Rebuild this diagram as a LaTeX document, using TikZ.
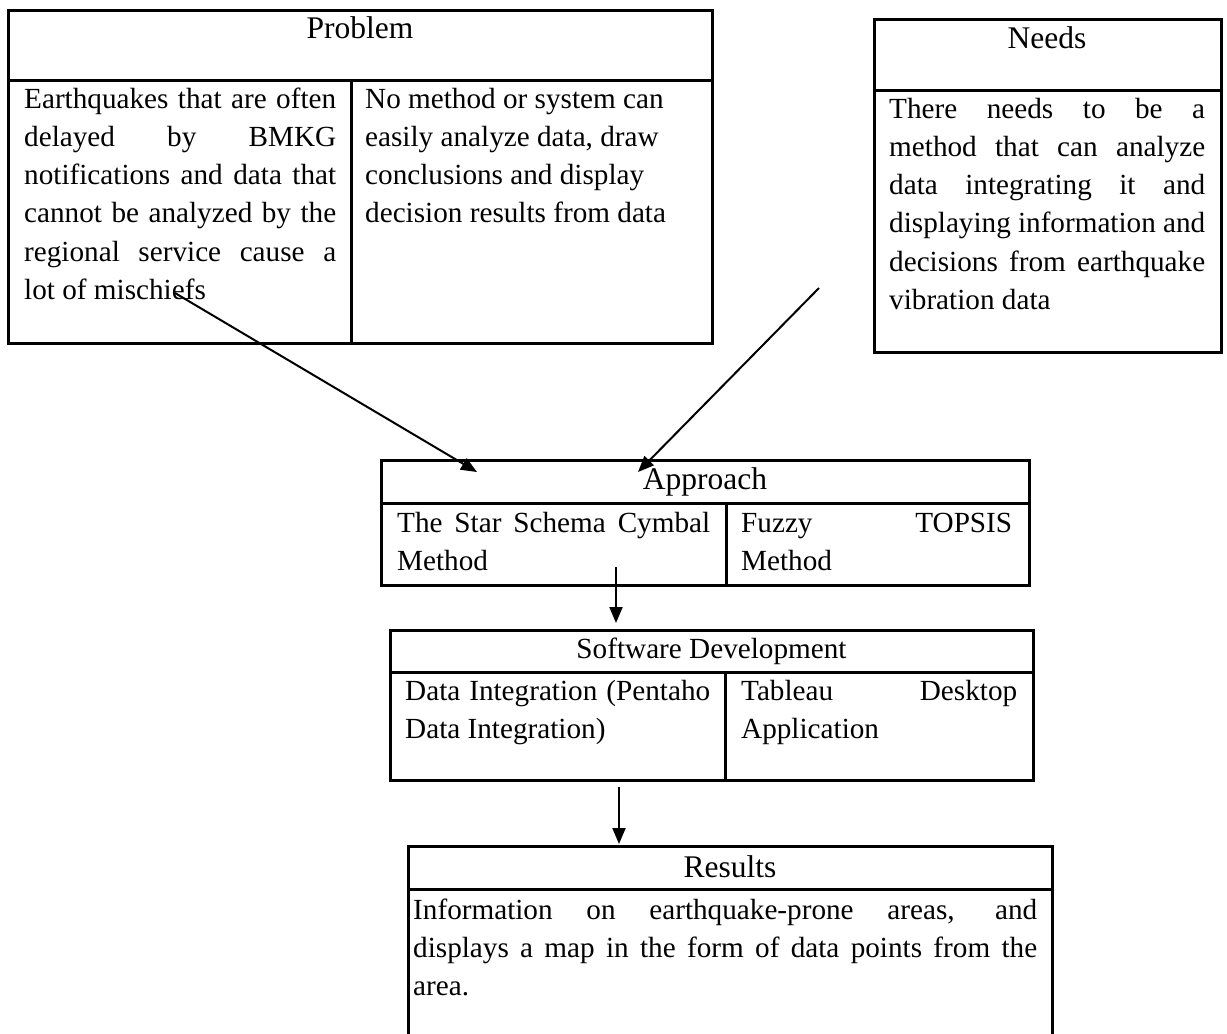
\documentclass[tikz,border=0pt]{standalone}
\usepackage{fontspec}
\setmainfont{Liberation Serif}
\usetikzlibrary{arrows.meta}
\newcommand\JL[1]{\hbox to\hsize{#1}}
\newcommand\RL[1]{\hbox{#1}}
\newcommand\Lines[2]{\vtop{\hsize=#1\relax\baselineskip=38.3pt\relax\lineskiplimit=-100pt\relax #2}}
\begin{document}
\begin{tikzpicture}[x=1pt,y=-1pt,
  frame/.style={draw, line width=3pt, rectangle, inner sep=0pt, outer sep=0pt, anchor=north west},
  rule/.style={line width=3pt},
  head/.style={font=\fontsize{31.5}{38}\selectfont, inner sep=0pt, anchor=base},
  body/.style={font=\fontsize{29.2}{38.3}\selectfont, inner sep=0pt, anchor=base west},
  conn/.style={line width=2pt, -{Triangle[length=16pt,width=13pt]}}
]
\useasboundingbox (0,0) rectangle (1227,1034);
\clip (0,0) rectangle (1227,1034);

% frames
\node[frame, minimum width=704pt, minimum height=333pt] (problem) at (8,10) {};
\node[frame, minimum width=347pt, minimum height=333pt] (needs) at (874,19) {};
\node[frame, minimum width=648pt, minimum height=125pt] (approach) at (381,460) {};
\node[frame, minimum width=643pt, minimum height=150pt] (software) at (390,630) {};
\node[frame, minimum width=644pt, minimum height=220pt] (results) at (408,846) {};

% dividers
\draw[rule] (8,80) -- (712,80);
\draw[rule] (351,80) -- (351,343);
\draw[rule] (874,90) -- (1221,90);
\draw[rule] (381,503) -- (1029,503);
\draw[rule] (726,503) -- (726,585);
\draw[rule] (390,672) -- (1033,672);
\draw[rule] (725,672) -- (725,780);
\draw[rule] (408,889) -- (1052,889);

% headings
\node[head] (tproblem) at (360,38) {Problem};
\node[head] (tneeds) at (1047,48) {Needs};
\node[head] (tapproach) at (705,489) {Approach};
\node[head, font=\fontsize{29.2}{38}\selectfont] (tsoft) at (711.5,658) {Software Development};
\node[head] (tresults) at (730,877) {Results};

% bodies
\node[body] (pleft) at (24,108) {\Lines{312pt}{\JL{Earthquakes that are often}\JL{delayed by BMKG}\JL{notifications and data that}\JL{cannot be analyzed by the}\JL{regional service cause a}\RL{lot of mischiefs}}};
\node[body] (pright) at (365,108) {\Lines{320pt}{\RL{No method or system can}\RL{easily analyze data, draw}\RL{conclusions and display}\RL{decision results from data}}};
\node[body] (nbody) at (889,118) {\Lines{316pt}{\JL{There needs to be a}\JL{method that can analyze}\JL{data integrating it and}\JL{displaying information and}\JL{decisions from earthquake}\RL{vibration data}}};
\node[body] (aleft) at (397,532) {\Lines{313pt}{\JL{The Star Schema Cymbal}\RL{Method}}};
\node[body] (aright) at (741,532) {\Lines{271pt}{\JL{Fuzzy TOPSIS}\RL{Method}}};
\node[body] (sleft) at (405,700) {\Lines{305pt}{\JL{Data Integration (Pentaho}\RL{Data Integration)}}};
\node[body] (sright) at (741,700) {\Lines{276pt}{\JL{Tableau Desktop}\RL{Application}}};
\node[body] (rbody) at (413,919) {\Lines{624pt}{\JL{Information on earthquake-prone areas, and}\JL{displays a map in the form of data points from the}\RL{area.}}};

% connector ends
\coordinate (s1) at (175,293);
\coordinate (e1) at (477,472);
\coordinate (s2) at (819,288);
\coordinate (e2) at (638,472);
\coordinate (s3) at (616,567);
\coordinate (e3) at (616,623);
\coordinate (s4) at (619,787);
\coordinate (e4) at (619,844);

\draw[conn] (s1) -- (e1);
\draw[conn] (s2) -- (e2);
\draw[conn] (s3) -- (e3);
\draw[conn] (s4) -- (e4);
\end{tikzpicture}
\end{document}
